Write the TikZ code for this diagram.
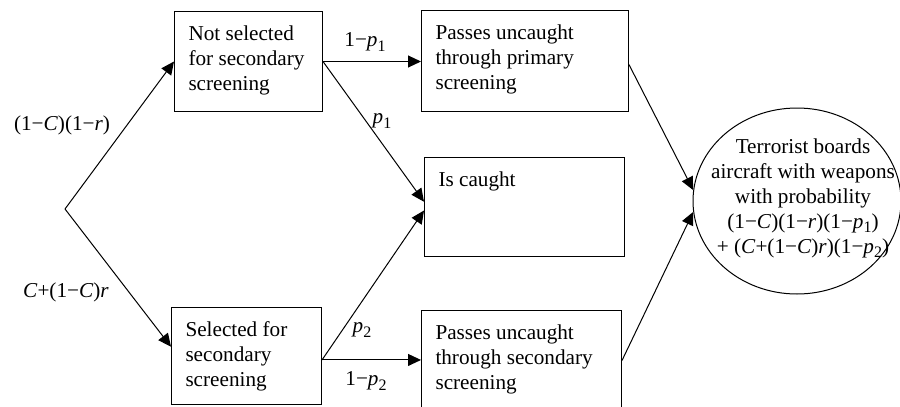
\documentclass[tikz,border=0pt]{standalone}
\usepackage{fontspec}
\setmainfont{Liberation Serif}
\usetikzlibrary{arrows.meta,shapes.geometric}

\newcommand\itvar[1]{\textit{#1}}
\newcommand\lowidx[1]{\raisebox{-0.45ex}{\fontsize{8}{8}\selectfont #1}}
\newcommand\boxtext[3]{\parbox[c][#2][t]{#1}{\raggedright #3}}

\tikzset{every picture/.style={line width=0.5pt}}
\tikzset{
  stagebox/.style={draw, rectangle, anchor=north west, inner xsep=7pt, inner ysep=7pt},
  flow/.style={-{Triangle[length=6.5pt,width=6pt]}},
}

\begin{document}
\begin{tikzpicture}[x=0.5pt,y=0.5pt,yscale=-1,xscale=1,font=\fontsize{10.6}{12.5}\selectfont]
\useasboundingbox (0,0) rectangle (900,407);

%start of the tree
\coordinate (root) at (65,209);

%Boxes
\node[stagebox, minimum width=74pt, minimum height=50pt] (notsel) at (174,11) {\boxtext{60pt}{36pt}{Not selected\\for secondary\\screening}};
\node[stagebox, minimum width=75pt, minimum height=48.5pt] (sel) at (171,307) {\boxtext{61pt}{34.5pt}{Selected for\\secondary\\screening}};
\node[stagebox, minimum width=103.5pt, minimum height=50.5pt] (primpass) at (421,10) {\boxtext{89.5pt}{36.5pt}{Passes uncaught\\through primary\\screening}};
\node[stagebox, minimum width=100pt, minimum height=49.5pt] (caught) at (424,157) {\boxtext{86pt}{35.5pt}{Is caught}};
\node[stagebox, minimum width=100pt, minimum height=50pt] (secpass) at (421,310) {\boxtext{86pt}{36pt}{Passes uncaught\\through secondary\\screening}};

%Ellipse
\node[draw, ellipse, inner sep=0pt, minimum width=104pt, minimum height=93pt] (board) at (797,201) {};
\node[align=center, inner sep=0pt] (boardtxt) at (803,198) {Terrorist boards\\aircraft with weapons\\with probability\\(1−\itvar{C})(1−\itvar{r})(1−\itvar{p}\lowidx{1})\\+ (\itvar{C}+(1−\itvar{C})\itvar{r})(1−\itvar{p}\lowidx{2})};

%Arrows
\draw[flow] (root) -- (notsel.west);
\draw[flow] (root) -- (sel.173);
\draw[flow] (notsel.east) -- (notsel.east -| primpass.west);
\draw[flow] (notsel.east) -- (caught.177);
\draw[flow] (sel.-3) -- (sel.-3 -| secpass.west);
\draw[flow] (sel.-3) -- (caught.182);
\draw[flow] (primpass.-2) -- (board.174);
\draw[flow] (secpass.east) -- (board.186);

%Labels
\node (lblsel) at (62,125) {(1−\itvar{C})(1−\itvar{r})};
\node (lblnot) at (66,292) {\itvar{C}+(1−\itvar{C})\itvar{r}};
\node (lblqa) at (365,42) {1−\itvar{p}\lowidx{1}};
\node (lblpa) at (382,121) {\itvar{p}\lowidx{1}};
\node (lblpb) at (362,330) {\itvar{p}\lowidx{2}};
\node (lblqb) at (366,381) {1−\itvar{p}\lowidx{2}};

\end{tikzpicture}
\end{document}
